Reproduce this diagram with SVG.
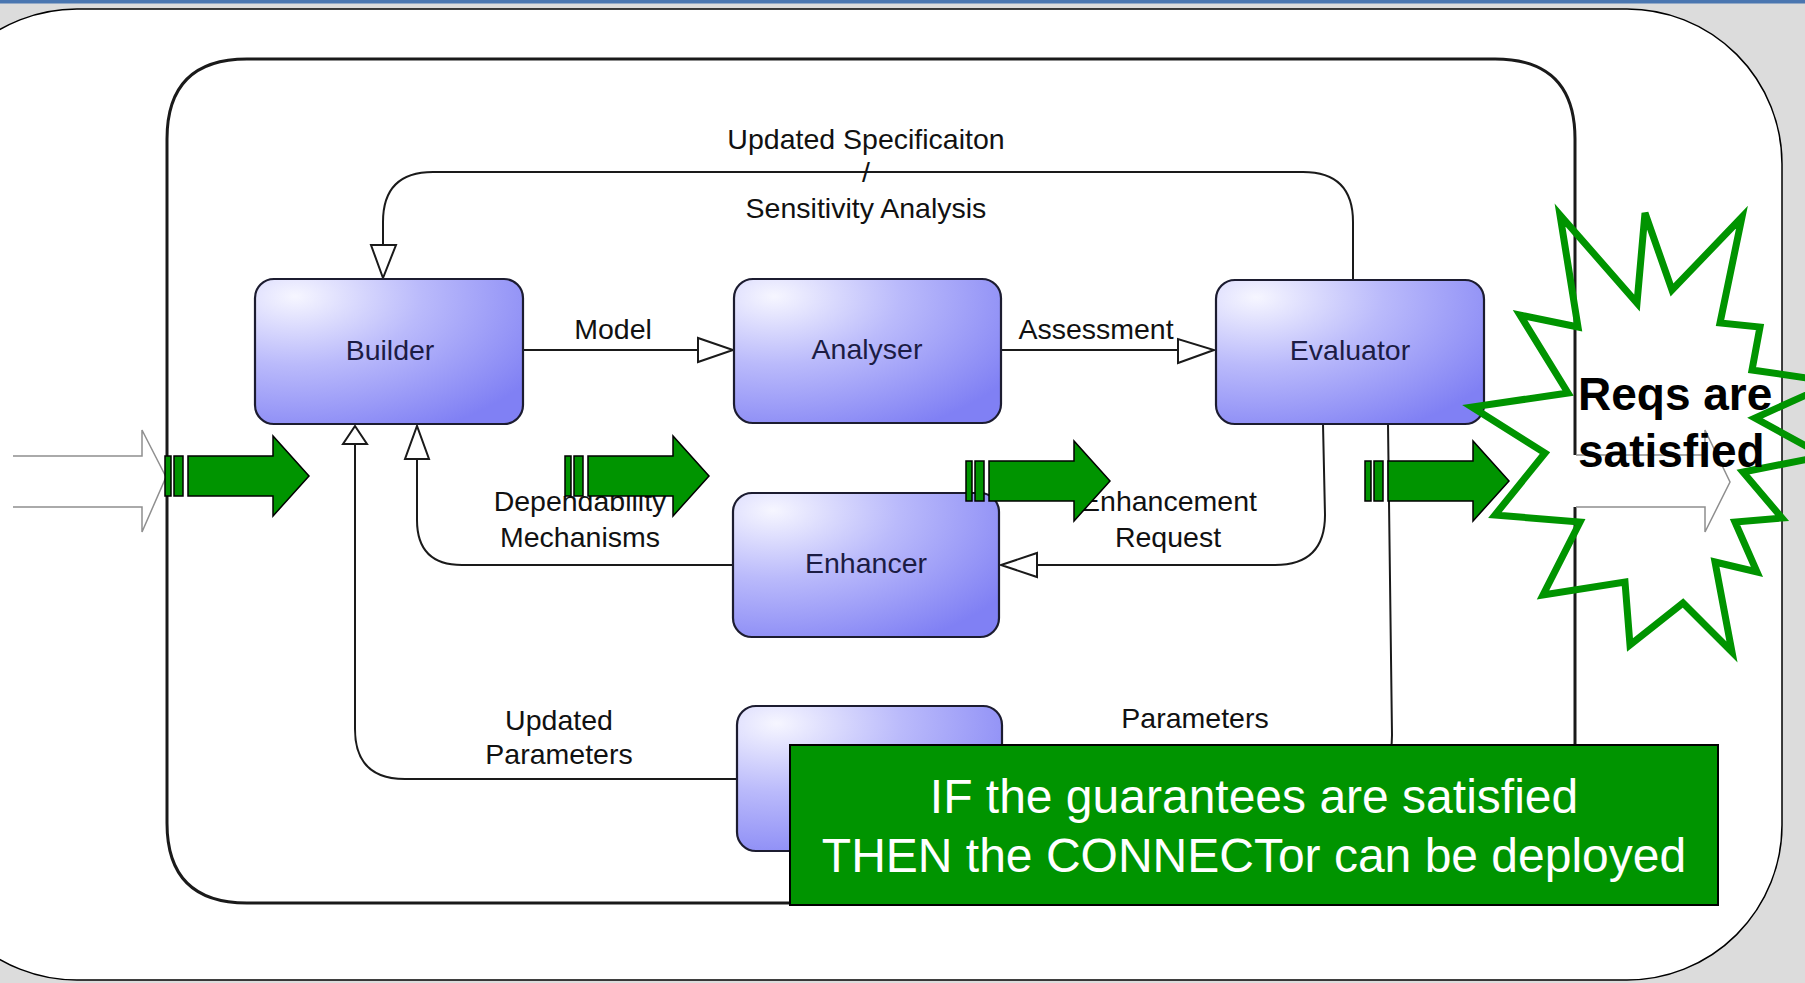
<svg xmlns="http://www.w3.org/2000/svg" width="1805" height="983" viewBox="0 0 1805 983">
<defs>
<style>
.bg{fill:#dcdcdc}
.line{fill:none;stroke:#1a1a1a;stroke-width:2}
.head{fill:#fff;stroke:#1a1a1a;stroke-width:2;stroke-linejoin:miter}
.box{fill:url(#boxgrad);stroke:#1c1c30;stroke-width:2.2}
.boxtxt{font-family:"Liberation Sans",Arial,sans-serif;font-size:28.5px;fill:#1c1c44;text-anchor:middle}
.lbl{font-family:"Liberation Sans",Arial,sans-serif;font-size:28.5px;fill:#111;text-anchor:middle}
.grey{fill:none;stroke:#8f8f8f;stroke-width:1.5}
.garrow{fill:#009400;stroke:#000;stroke-width:1.5}
.star{fill:none;stroke:#009400;stroke-width:7;stroke-linejoin:miter}
.reqs{font-family:"Liberation Sans",Arial,sans-serif;font-size:46px;font-weight:bold;fill:#000}
.note{font-family:"Liberation Sans",Arial,sans-serif;font-size:48px;fill:#fff;text-anchor:middle}
</style>
<radialGradient id="boxgrad" cx="0.15" cy="0.12" r="1.05" fx="0.15" fy="0.12">
<stop offset="0" stop-color="#f6f6ff"/>
<stop offset="0.45" stop-color="#babafb"/>
<stop offset="1" stop-color="#8080f4"/>
</radialGradient>
<g id="garrowShape">
<rect class="garrow" x="165" y="456" width="6" height="40"/>
<rect class="garrow" x="174" y="456" width="9" height="40"/>
<polygon class="garrow" points="188,456 273,456 273,436 309,476 273,516 273,496 188,496"/>
</g>
</defs>

<rect class="bg" x="0" y="0" width="1805" height="983"/>
<rect x="0" y="0" width="1805" height="3.5" fill="#4a76b0"/>
<rect x="-78" y="9" width="1860" height="971" rx="155" ry="155" fill="#fff" stroke="#000" stroke-width="1.5"/>

<g id="frame">
<path d="M1575,507 L1575,823 Q1575,903 1495,903 L247,903 Q167,903 167,823 L167,139 Q167,59 247,59 L1495,59 Q1575,59 1575,139 L1575,455" fill="none" stroke="#1a1a1a" stroke-width="3"/>
<path class="grey" d="M13,456 L142,456 L142,430 L166,477 L142,532 L142,507 L13,507"/>
<path class="grey" d="M1576,455 L1705,455 L1705,430 L1730,482 L1705,532 L1705,507 L1576,507"/>
</g>

<g id="connectors">
<path class="line" d="M1353,279 L1353,222 Q1353,172 1303,172 L433,172 Q383,172 383,222 L383,245"/>
<polygon class="head" points="371,245 396,245 383,278"/>
<path class="line" d="M523,350 L698,350"/>
<polygon class="head" points="698,338 698,362 733,350"/>
<path class="line" d="M1000,350 L1178,350"/>
<polygon class="head" points="1178,339 1178,363 1214,350"/>
<path class="line" d="M1323,424 L1325,515 Q1325,565 1275,565 L1037,565"/>
<polygon class="head" points="1037,553 1037,577 1001,565"/>
<path class="line" d="M733,565 L462,565 Q417,565 417,520 L417,459"/>
<polygon class="head" points="405,459 429,459 417,426"/>
<path class="line" d="M737,779 L405,779 Q355,779 355,729 L355,444"/>
<polygon class="head" points="343,444 367,444 355,426"/>
<path class="line" d="M1388,424 L1392,735 Q1392,790 1340,790 L1002,790"/>
</g>

<g id="labels">
<text class="lbl" x="866" y="149">Updated Specificaiton</text>
<text class="lbl" x="866" y="182">/</text>
<text class="lbl" x="866" y="218">Sensitivity Analysis</text>
<text class="lbl" x="613" y="339">Model</text>
<text class="lbl" x="1096" y="339">Assessment</text>
<text class="lbl" x="580" y="511">Dependability</text>
<text class="lbl" x="580" y="547">Mechanisms</text>
<text class="lbl" x="1169" y="511">Enhancement</text>
<text class="lbl" x="1168" y="547">Request</text>
<text class="lbl" x="559" y="730">Updated</text>
<text class="lbl" x="559" y="764">Parameters</text>
<text class="lbl" x="1195" y="728">Parameters</text>
</g>

<g id="node-builder">
<rect class="box" x="255" y="279" width="268" height="145" rx="19"/>
<text class="boxtxt" x="390" y="360">Builder</text>
</g>
<g id="node-analyser">
<rect class="box" x="734" y="279" width="267" height="144" rx="19"/>
<text class="boxtxt" x="867" y="359">Analyser</text>
</g>
<g id="node-evaluator">
<rect class="box" x="1216" y="280" width="268" height="144" rx="19"/>
<text class="boxtxt" x="1350" y="360">Evaluator</text>
</g>
<g id="node-enhancer">
<rect class="box" x="733" y="493" width="266" height="144" rx="19"/>
<text class="boxtxt" x="866" y="573">Enhancer</text>
</g>
<g id="node-hidden">
<rect class="box" x="737" y="706" width="265" height="145" rx="19"/>
</g>

<g id="green-arrows">
<use href="#garrowShape"/>
<use href="#garrowShape" transform="translate(400,0)"/>
<use href="#garrowShape" transform="translate(801,5)"/>
<use href="#garrowShape" transform="translate(1200,5)"/>
</g>

<g id="starburst">
<polygon class="star" points="1560,215 1637,303 1645,213 1672,290 1742,217 1720,323 1760,327 1752,370 1835,382 1755,418 1824,456 1743,472 1782,518 1735,522 1757,572 1715,562 1732,652 1683,603 1630,645 1625,582 1543,595 1580,522 1495,515 1545,453 1472,407 1568,393 1520,315 1578,327"/>
<text class="reqs" x="1578" y="410">Reqs are</text>
<text class="reqs" x="1578" y="467">satisfied</text>
</g>

<g id="note">
<rect x="790" y="745" width="928" height="160" fill="#009400" stroke="#000" stroke-width="2"/>
<text class="note" x="1254" y="813">IF the guarantees are satisfied</text>
<text class="note" x="1254" y="872">THEN the CONNECTor can be deployed</text>
</g>
</svg>
